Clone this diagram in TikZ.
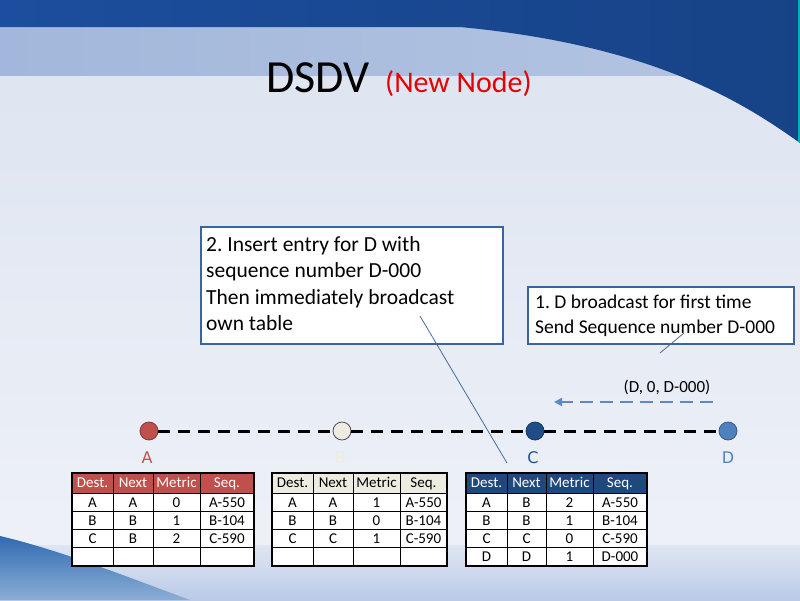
\documentclass[tikz,border=0pt]{standalone}
\usepackage{fontspec}
\setmainfont{Carlito}
\newfontfamily\lblfont{DejaVu Sans}
\usetikzlibrary{arrows.meta}
\frenchspacing
\definecolor{bgtop}{HTML}{DCE3F0}
\definecolor{bgbot}{HTML}{EFF2F8}
\definecolor{darkband}{HTML}{1B4E9E}
\definecolor{lightband}{HTML}{A2B7DB}
\definecolor{botband}{HTML}{BACBE7}
\definecolor{swoop}{HTML}{2F6BB2}
\definecolor{hdrA}{HTML}{C0504D}
\definecolor{hdrB}{HTML}{EEECE1}
\definecolor{hdrC}{HTML}{1F497D}
\definecolor{nodeC}{HTML}{1F4E87}
\definecolor{nodeD}{HTML}{4F81BD}
\definecolor{boxline}{HTML}{3A63A0}
\definecolor{ptrline}{HTML}{4A6A9C}
\definecolor{titlered}{HTML}{E60000}
\definecolor{arrowblue}{HTML}{5B8AC6}
\tikzset{
  netnode/.style={circle,minimum size=18pt,inner sep=0pt,line width=0.8pt},
  nodelbl/.style={font=\lblfont\fontsize{16}{16}\selectfont,anchor=base},
  dashline/.style={line width=3pt,dash pattern=on 12pt off 8pt,black},
  infobox/.style={draw=boxline,line width=2pt,fill=white,rectangle,inner sep=0pt,anchor=north west},
  boxtext/.style={anchor=north west,inner sep=0pt,align=left},
  ptr/.style={ptrline,line width=0.8pt},
  cell/.style={anchor=base,inner sep=0pt,font=\fontsize{15}{15}\selectfont},
  gridline/.style={line width=0.8pt,black},
  tblframe/.style={line width=2pt,black}
}
% #1 name, #2..#6 column borders, #7 header fill, #8 header text colour, #9 rows
\def\dsdvtable#1(#2,#3,#4,#5,#6)#7#8#9{%
  \fill[#7] (#2,473) rectangle (#6,493);
  \fill[white] (#2,493) rectangle (#6,566);
  \foreach \yy in {493,511,529,547} \draw[gridline] (#2,\yy) -- (#6,\yy);
  \foreach \xx in {#3,#4,#5} \draw[gridline] (\xx,473) -- (\xx,566);
  \draw[tblframe] (#2,473) rectangle (#6,566);
  \foreach \ca/\cb/\cc/\cd [count=\k] in {#9}{%
    \ifnum\k=1 \def\tc{#8}\else\def\tc{black}\fi
    \pgfmathsetmacro\yc{\k==1 ? 487.8 : 507.2+18.2*(\k-2)}
    \node[cell,text=\tc] (#1-\k-1) at ({(#2+#3)/2},\yc) {\ca};
    \node[cell,text=\tc] (#1-\k-2) at ({(#3+#4)/2},\yc) {\cb};
    \node[cell,text=\tc] (#1-\k-3) at ({(#4+#5)/2},\yc) {\cc};
    \node[cell,text=\tc] (#1-\k-4) at ({(#5+#6)/2},\yc) {\cd};
  }%
}
\begin{document}
\begin{tikzpicture}[x=1pt,y=-1pt]
\useasboundingbox (0,0) rectangle (800,600);
% background
\shade[top color=bgtop,bottom color=bgbot] (0,0) rectangle (800,600);
\shade[left color=lightband,right color=lightband!80!white] (0,27) rectangle (800,75);
\shade[left color=darkband,right color=darkband!85!black]
  (0,0) -- (800,0) -- (800,143) .. controls (740,100) and (650,45) .. (460,27) -- (0,27) -- cycle;
\draw[line width=3pt,teal!60!cyan] (799,0) -- (799,142);
\shade[top color=bgbot!70!botband,bottom color=botband] (0,545) rectangle (800,600);
\shade[top color=swoop,bottom color=swoop!55!white]
  (0,536) .. controls (60,550) and (130,578) .. (190,600) -- (0,600) -- cycle;
% title
\node[anchor=base west,inner sep=0pt,font=\fontsize{46}{46}\selectfont] (title) at (266,92) {DSDV};
\node[anchor=base west,inner sep=0pt,font=\fontsize{30}{30}\selectfont,text=titlered] (subtitle) at (385,92) {(New Node)};
% network nodes
\node[netnode,fill=hdrA,draw=hdrA!70!black] (A) at (149,431) {};
\node[netnode,fill=hdrB,draw=black!70] (B) at (342,431) {};
\node[netnode,fill=nodeC,draw=nodeC!70!black] (C) at (535,431) {};
\node[netnode,fill=nodeD,draw=nodeD!70!black] (D) at (728,431) {};
\draw[dashline] (A) -- (B);
\draw[dashline] (B) -- (C);
\draw[dashline] (C) -- (D);
\node[nodelbl,text=hdrA] (lA) at (147,463) {A};
\node[nodelbl,text=hdrB] (lB) at (340,463) {B};
\node[nodelbl,text=nodeC] (lC) at (533,463) {C};
\node[nodelbl,text=nodeD] (lD) at (728,463) {D};
% broadcast arrow
\coordinate (arrS) at (713,402);
\coordinate (arrE) at (554,402);
\draw[arrowblue,line width=2.5pt,dash pattern=on 13pt off 7pt,-{Triangle[length=8pt,width=8pt]}] (arrS) -- (arrE);
\node[anchor=base,inner sep=0pt,font=\fontsize{17}{17}\selectfont] (msg) at (667,392) {(D, 0, D-000)};
% info boxes
\node[infobox,minimum width=302pt,minimum height=117pt] (box1) at (200,226) {};
\node[boxtext,font=\fontsize{21.5}{26.5}\selectfont] (box1t) at (206,236)
  {2. Insert entry for D with\\sequence number D-000\\Then immediately broadcast\\own table};
\node[infobox,minimum width=266pt,minimum height=57pt] (box2) at (527,286) {};
\node[boxtext,font=\fontsize{19.5}{24.5}\selectfont] (box2t) at (535,295)
  {1. D broadcast for first time\\Send Sequence number D-000};
% pointers
\coordinate (p1s) at (420,316);
\coordinate (p1e) at (507,463);
\draw[ptr] (p1s) -- (p1e);
\coordinate (p2s) at (684,333);
\coordinate (p2e) at (660,353);
\draw[ptr] (p2s) -- (p2e);
% tables
\dsdvtable{tA}(72,113,153,200,254){hdrA}{white}{Dest./Next/Metric/Seq.,A/A/0/A-550,B/B/1/B-104,C/B/2/C-590,///}
\dsdvtable{tB}(272,313,353,400,447){hdrB}{black}{Dest./Next/Metric/Seq.,A/A/1/A-550,B/B/0/B-104,C/C/1/C-590,///}
\dsdvtable{tC}(466,507,546,593,647){hdrC}{white}{Dest./Next/Metric/Seq.,A/B/2/A-550,B/B/1/B-104,C/C/0/C-590,D/D/1/D-000}
\end{tikzpicture}
\end{document}
